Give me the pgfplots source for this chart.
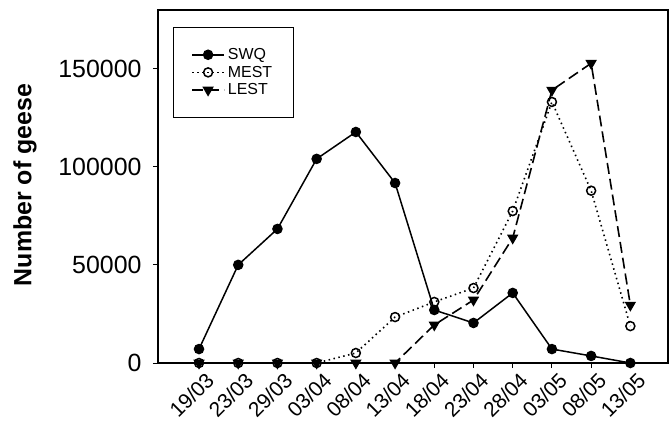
\documentclass[border=0pt]{standalone}
\usepackage{fontspec}
\setmainfont{Liberation Sans}
\usepackage{pgfplots}
\pgfplotsset{compat=1.18}
\begin{document}
\begin{tikzpicture}
\begin{axis}[
  scale only axis,
  width=510bp, height=353bp,
  xmin=-1.046, xmax=11.96,
  ymin=0, ymax=179850,
  axis line style={line width=1.3bp},
  xtick={0,...,11},
  xticklabels={19/03,23/03,29/03,03/04,08/04,13/04,18/04,23/04,28/04,03/05,08/05,13/05},
  xticklabel style={rotate=45, anchor=north east, font=\fontsize{21}{23}\selectfont, inner sep=1bp, xshift=3bp, yshift=-5bp},
  ytick={0,50000,100000,150000},
  yticklabels={0,50000,100000,150000},
  yticklabel style={font=\fontsize{25}{27}\selectfont, xshift=-8bp},
  scaled y ticks=false,
  xtick pos=bottom, ytick pos=left,
  tick align=outside,
  major tick length=5bp,
  tick style={line width=1bp, black},
  ylabel={\textbf{Number of geese}},
  ylabel style={at={(axis description cs:-0.261,0.504)}, anchor=center, rotate=0, font=\fontsize{25}{27}\selectfont},
  legend style={at={(axis description cs:0.029,0.952)}, anchor=north west,
    font=\fontsize{16}{18}\selectfont, draw=black, line width=1bp,
    inner xsep=18bp, inner ysep=20bp, row sep=3bp,
    nodes={inner xsep=3bp, inner ysep=1bp}},
  legend cell align=left,
  legend image code/.code={\draw[#1] (0bp,0bp) -- (32bp,0bp); \draw[mark repeat=2, mark phase=2, #1] plot coordinates {(0bp,0bp) (16bp,0bp) (32bp,0bp)};},
]
\addplot[black, line width=1.5bp, mark=*, mark size=4.5bp, mark options={solid, fill=black}]
coordinates {(0,7100) (1,50000) (2,68300) (3,104000) (4,117700) (5,91700) (6,27000) (7,20400) (8,35700) (9,7100) (10,3600) (11,0)};
\addlegendentry{SWQ}
\addplot[black, line width=1.6bp, dash pattern=on 1.5bp off 3.5bp, mark=o, mark size=4.5bp, mark options={solid, fill=white, line width=1.5bp}]
coordinates {(0,0) (1,0) (2,0) (3,0) (4,5100) (5,23400) (6,31100) (7,38200) (8,77400) (9,133000) (10,87800) (11,18800)};
\addlegendentry{MEST}
\addplot[black, line width=1.6bp, dash pattern=on 11bp off 5bp, mark=triangle*, mark size=5bp, mark options={solid, fill=black, rotate=180}]
coordinates {(0,0) (1,0) (2,0) (3,0) (4,0) (5,0) (6,19400) (7,32100) (8,63700) (9,139000) (10,152700) (11,29500)};
\addlegendentry{LEST}
\end{axis}
\path (current axis.south west) ++(-158bp,-65bp) coordinate (bl);
\path (current axis.north east) ++(1bp,10bp) coordinate (tr);
\path (bl) rectangle (tr);
\end{tikzpicture}
\end{document}
